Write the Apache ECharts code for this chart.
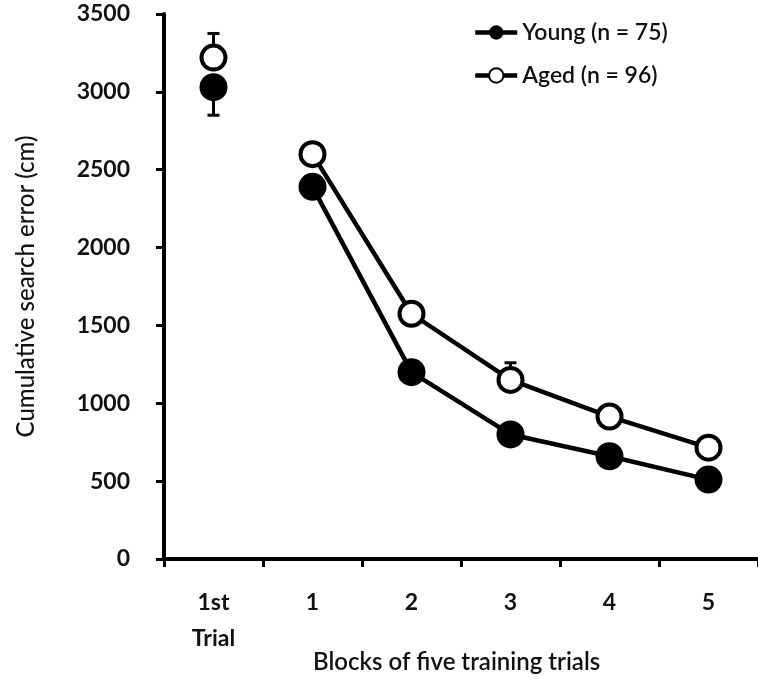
<!DOCTYPE html>
<html>
<head>
<meta charset="utf-8">
<script src="https://cdn.jsdelivr.net/npm/echarts@6/dist/echarts.min.js"></script>
<style>
  html, body { margin: 0; padding: 0; background: #fff; }
  #chart { width: 758px; height: 679px; }
</style>
</head>
<body>
<div id="chart"></div>
<script>
// categories on the x axis
const categories = ['1st\nTrial', '1', '2', '3', '4', '5'];

// mean cumulative search error (cm), first trial then five training blocks
const youngFirst = 3030;
const agedFirst = 3220;
const youngBlocks = [2390, 1200, 800, 660, 510];
const agedBlocks = [2600, 1575, 1150, 915, 715];

// standard errors (aged drawn upward, young drawn downward)
const youngFirstErr = 180;
const agedFirstErr = 155;
const youngBlockErr = [60, 50, 50, 50, 40];
const agedBlockErr = [60, 70, 110, 60, 50];

const yTicks = { min: 0, max: 3500, interval: 500 };

const font = 'Lato, "Open Sans", sans-serif';

// error bar rows: [categoryIndex, mean, signed err]
const errRows = [[0, youngFirst, -youngFirstErr], [0, agedFirst, agedFirstErr]];
youngBlocks.forEach((v, i) => errRows.push([i + 1, v, -youngBlockErr[i]]));
agedBlocks.forEach((v, i) => errRows.push([i + 1, v, agedBlockErr[i]]));

const chart = echarts.init(document.getElementById('chart'));

chart.setOption({
    backgroundColor: '#fff',
    animation: false,
    title: {
        text: 'Blocks of five training trials',
        left: 308,
        top: 645,
        textStyle: { fontFamily: font, fontSize: 24, fontWeight: 600, color: '#111' }
    },
    grid: { left: 164, top: 14, width: 602, height: 545 },
    legend: {
        data: ['Young (n = 75)', 'Aged (n = 96)'],
        orient: 'vertical',
        left: 468,
        top: 16,
        itemWidth: 42,
        itemHeight: 18,
        itemGap: 20,
        lineStyle: { width: 4.5, color: '#000' },
        textStyle: { fontFamily: font, fontSize: 23, fontWeight: 600, color: '#111' }
    },
    xAxis: {
        type: 'category',
        data: categories,
        boundaryGap: true,
        axisLine: { lineStyle: { color: '#000', width: 4 } },
        axisTick: { show: true, length: 8, lineStyle: { color: '#000', width: 3 } },
        axisLabel: {
            margin: 26,
            fontFamily: font,
            fontSize: 23,
            fontWeight: 'bold',
            color: '#111',
            lineHeight: 36
        },
        splitLine: { show: false }
    },
    yAxis: {
        type: 'value',
        min: yTicks.min,
        max: yTicks.max,
        interval: yTicks.interval,
        name: 'Cumulative search error (cm)',
        nameLocation: 'middle',
        nameGap: 126,
        nameTextStyle: { fontFamily: font, fontSize: 24, fontWeight: 500, color: '#111' },
        axisLine: { show: true, lineStyle: { color: '#000', width: 4 } },
        axisTick: { show: true, length: 8, lineStyle: { color: '#000', width: 3 } },
        axisLabel: {
            margin: 34,
            fontFamily: font,
            fontSize: 23,
            fontWeight: 'bold',
            color: '#111',
            formatter: v => String(v)
        },
        splitLine: { show: false }
    },
    series: [
        {
            name: 'errors',
            type: 'custom',
            z: 1,
            data: errRows,
            encode: { x: 0, y: 1 },
            renderItem: (params, api) => {
                const x = api.value(0);
                const m = api.value(1);
                const e = api.value(2);
                const mid = api.coord([x, m]);
                const end = api.coord([x, m + e]);
                const cap = 6;
                const style = { stroke: '#000', lineWidth: 3 };
                return {
                    type: 'group',
                    children: [
                        { type: 'line', shape: { x1: mid[0], y1: mid[1], x2: end[0], y2: end[1] }, style },
                        { type: 'line', shape: { x1: end[0] - cap, y1: end[1], x2: end[0] + cap, y2: end[1] }, style }
                    ]
                };
            }
        },
        {
            name: 'Aged (n = 96)',
            type: 'line',
            z: 3,
            data: [null].concat(agedBlocks),
            symbol: 'circle',
            symbolSize: 24,
            lineStyle: { color: '#000', width: 4.5 },
            itemStyle: { color: '#fff', borderColor: '#000', borderWidth: 4, opacity: 1 }
        },
        {
            name: 'Young (n = 75)',
            type: 'line',
            z: 4,
            data: [null].concat(youngBlocks),
            symbol: 'circle',
            symbolSize: 28,
            lineStyle: { color: '#000', width: 4.5 },
            itemStyle: { color: '#000', borderColor: '#000', borderWidth: 0, opacity: 1 }
        },
        {
            name: 'agedFirst',
            type: 'scatter',
            z: 3,
            data: [[0, agedFirst]],
            symbol: 'circle',
            symbolSize: 24,
            itemStyle: { color: '#fff', borderColor: '#000', borderWidth: 4, opacity: 1 }
        },
        {
            name: 'youngFirst',
            type: 'scatter',
            z: 4,
            data: [[0, youngFirst]],
            symbol: 'circle',
            symbolSize: 28,
            itemStyle: { color: '#000', opacity: 1 }
        }
    ]
});
</script>
</body>
</html>
